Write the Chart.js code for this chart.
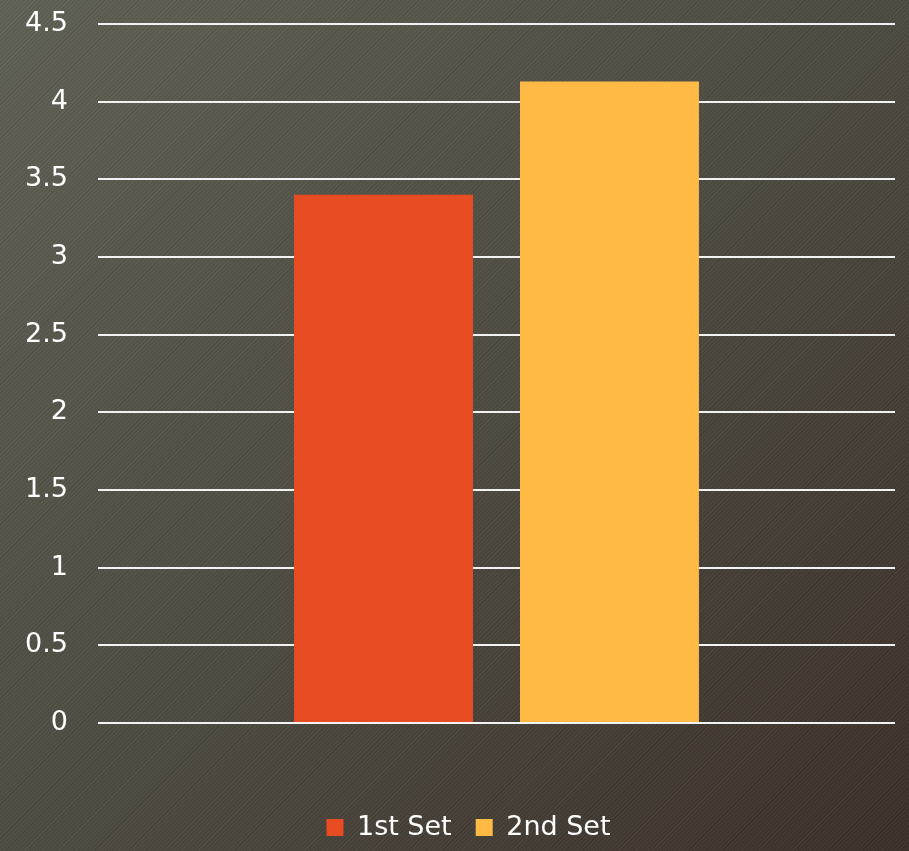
<!DOCTYPE html>
<html>
<head>
<meta charset="utf-8">
<script src="https://cdn.jsdelivr.net/npm/chart.js@4.4.1/dist/chart.umd.min.js"></script>
<style>
  html, body { margin: 0; padding: 0; }
  body {
    width: 909px; height: 851px; overflow: hidden;
    background:
      repeating-linear-gradient(135deg, rgba(255,255,255,0.03) 0 1.5px, rgba(0,0,0,0.03) 1.5px 3px),
      linear-gradient(135deg, #5f6054 0%, #4d4a41 50%, #3a3029 100%);
  }
  .wrap { position: relative; width: 909px; height: 851px; }
</style>
</head>
<body>
<div class="wrap"><canvas id="setChart"></canvas></div>
<script>
/* ---- data ---- */
const categories = ['Sets'];
const seriesNames = ['1st Set', '2nd Set'];
const firstSet = [3.4];
const secondSet = [4.13];
const seriesColors = ['#E84C22', '#FFBA46'];

Chart.defaults.font.family = '"DejaVu Sans", sans-serif';
Chart.defaults.color = '#ffffff';

// nudge the legend a bit right so it sits under the bars
const legendNudge = {
  id: 'legendNudge',
  afterLayout(chart) {
    if (chart.legend) chart.legend.left += 42;
  }
};

new Chart(document.getElementById('setChart'), {
  type: 'bar',
  data: {
    labels: categories,
    datasets: [
      { label: seriesNames[0], data: firstSet, backgroundColor: seriesColors[0] },
      { label: seriesNames[1], data: secondSet, backgroundColor: seriesColors[1] }
    ]
  },
  options: {
    responsive: true, maintainAspectRatio: false,
    animation: false,
    categoryPercentage: 0.567,
    barPercentage: 0.792,
    layout: { padding: { top: 24, right: 14, left: 0, bottom: 0 } },
    plugins: {
      tooltip: { enabled: false },
      legend: {
        position: 'bottom',
        labels: {
          boxWidth: 17, boxHeight: 17,
          padding: 24,
          font: { size: 27, lineHeight: 1 },
          color: '#ffffff'
        }
      }
    },
    scales: {
      x: {
        grid: { display: false },
        border: { display: false },
        ticks: { display: false },
        afterFit: s => { s.height = 67; }
      },
      y: {
        min: 0, max: 4.5,
        ticks: {
          stepSize: 0.5, padding: 30, font: { size: 27 }, color: '#ffffff',
          callback: v => String(Number(v))
        },
        grid: { color: '#f2f2f2', lineWidth: 2, drawTicks: false },
        border: { display: false },
        afterFit: s => { s.width = 98; s.paddingTop = 0; s.paddingBottom = 0; }
      }
    }
  },
  plugins: [legendNudge]
});
</script>
</body>
</html>
